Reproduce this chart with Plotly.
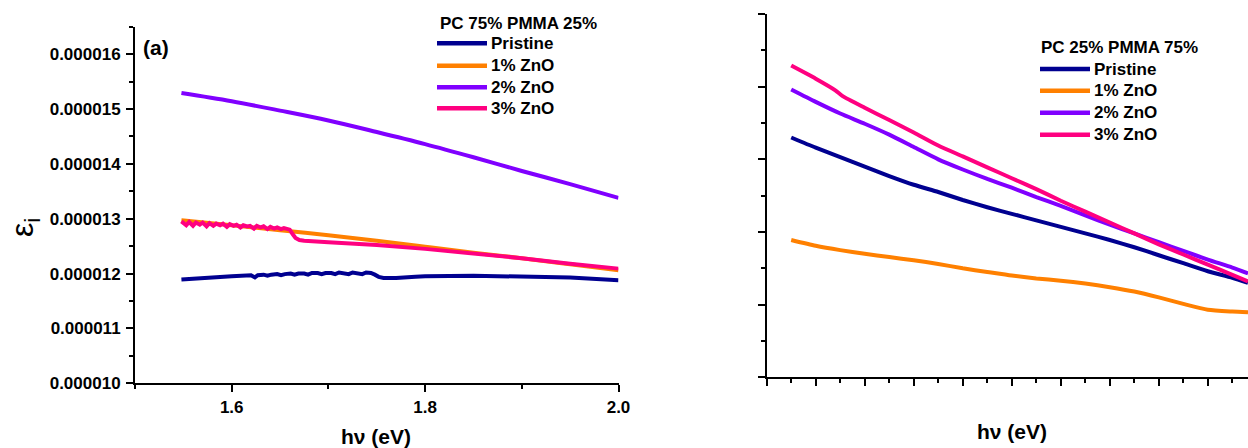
import plotly.graph_objects as go

W, H = 1248, 448

# ---------------- data: left panel (PC 75% PMMA 25%) ----------------
series_names = ["Pristine", "1% ZnO", "2% ZnO", "3% ZnO"]
series_colors = ["#000090", "#FF8000", "#8000FF", "#FF0080"]

left_x = [1.548, 1.6, 1.65, 1.7, 1.75, 1.8, 1.85, 1.9, 1.95, 2.0]
left_zno1 = [12.97, 12.88, 12.79, 12.70, 12.60, 12.49, 12.38, 12.28, 12.17, 12.06]
left_zno2 = [15.29, 15.14, 14.97, 14.79, 14.58, 14.36, 14.12, 13.87, 13.63, 13.38]

left_zno3_x = [1.548, 1.553, 1.556, 1.560, 1.563, 1.567, 1.570, 1.574, 1.577, 1.581,
               1.584, 1.588, 1.591, 1.595, 1.598, 1.602, 1.605, 1.609, 1.612, 1.616,
               1.619, 1.623, 1.626, 1.630, 1.633, 1.637, 1.640, 1.644, 1.647, 1.651,
               1.654, 1.657, 1.660, 1.663, 1.666, 1.670, 1.675, 1.70, 1.75, 1.80,
               1.85, 1.90, 1.95, 2.0]
left_zno3 = [12.95, 12.88, 12.94, 12.87, 12.93, 12.89, 12.93, 12.86, 12.92, 12.87,
             12.91, 12.88, 12.91, 12.85, 12.90, 12.87, 12.89, 12.84, 12.88, 12.86,
             12.87, 12.82, 12.87, 12.84, 12.86, 12.81, 12.85, 12.82, 12.84, 12.81,
             12.83, 12.82, 12.80, 12.72, 12.65, 12.61, 12.60, 12.57, 12.52, 12.45,
             12.37, 12.28, 12.18, 12.09]

left_pristine_x = [1.548, 1.575, 1.60, 1.620, 1.624, 1.627, 1.633, 1.637, 1.641, 1.647,
                   1.651, 1.655, 1.661, 1.665, 1.669, 1.675, 1.679, 1.683, 1.689, 1.693,
                   1.697, 1.703, 1.707, 1.711, 1.717, 1.721, 1.725, 1.731, 1.735, 1.739,
                   1.744, 1.748, 1.752, 1.757, 1.77, 1.79, 1.80, 1.85, 1.90, 1.95, 2.0]
left_pristine = [11.89, 11.93, 11.95, 11.97, 11.93, 11.97, 11.98, 11.96, 11.98, 11.99,
                 11.97, 11.99, 12.00, 11.98, 12.00, 12.00, 11.98, 12.01, 12.01, 11.99,
                 12.01, 12.01, 11.99, 12.02, 12.01, 11.99, 12.02, 12.01, 11.99, 12.02,
                 12.01, 11.98, 11.94, 11.92, 11.92, 11.94, 11.95, 11.96, 11.95, 11.93, 11.88]

left_y_scale = 1e-6  # values above are in units of 1e-6

# ---------------- data: right panel (PC 25% PMMA 75%), unlabeled axes ----------------
right_x = [1.55, 1.6, 1.65, 1.7, 1.75, 1.8, 1.85, 1.9, 1.95, 2.0,
           2.05, 2.1, 2.15, 2.2, 2.25, 2.3, 2.35, 2.4, 2.45, 2.482]
right_pristine = [3.30, 3.16, 3.03, 2.90, 2.77, 2.65, 2.55, 2.44, 2.34, 2.25,
                  2.16, 2.07, 1.98, 1.89, 1.79, 1.68, 1.57, 1.46, 1.37, 1.30]
right_zno1 = [1.89, 1.81, 1.75, 1.70, 1.655, 1.61, 1.56, 1.50, 1.45, 1.40,
              1.36, 1.33, 1.29, 1.24, 1.18, 1.10, 1.01, 0.93, 0.905, 0.895]
right_zno2 = [3.96, 3.79, 3.63, 3.49, 3.34, 3.17, 3.00, 2.86, 2.73, 2.61,
              2.48, 2.36, 2.23, 2.10, 1.98, 1.86, 1.74, 1.62, 1.51, 1.43]
right_zno3_x = [1.55, 1.6, 1.64, 1.655, 1.7, 1.75, 1.8, 1.85, 1.9, 1.95, 2.0,
                2.05, 2.1, 2.15, 2.2, 2.25, 2.3, 2.35, 2.4, 2.45, 2.482]
right_zno3 = [4.29, 4.11, 3.95, 3.87, 3.71, 3.54, 3.37, 3.19, 3.04, 2.89, 2.74,
              2.59, 2.43, 2.28, 2.13, 1.98, 1.83, 1.69, 1.55, 1.41, 1.32]

left_title = "PC 75% PMMA 25%"
right_title = "PC 25% PMMA 75%"

# ---------------- figure ----------------
FONT = "Liberation Sans, Arial, sans-serif"


def px(x):
    return x / W


def py(y):
    return 1 - y / H


fig = go.Figure()

left_sets = [
    (left_pristine_x, left_pristine, "linear"),
    (left_x, left_zno1, "spline"),
    (left_x, left_zno2, "spline"),
    (left_zno3_x, left_zno3, "linear"),
]
for (xs, ys, shp), name, col in zip(left_sets, series_names, series_colors):
    fig.add_trace(go.Scatter(x=xs, y=[v * left_y_scale for v in ys], mode="lines",
                             name=name, line=dict(color=col, width=4, shape=shp),
                             xaxis="x", yaxis="y", showlegend=False))

right_sets = [
    (right_x, right_pristine),
    (right_x, right_zno1),
    (right_x, right_zno2),
    (right_zno3_x, right_zno3),
]
for (xs, ys), name, col in zip(right_sets, series_names, series_colors):
    fig.add_trace(go.Scatter(x=xs, y=ys, mode="lines", name=name,
                             line=dict(color=col, width=4, shape="spline", smoothing=0.6),
                             xaxis="x2", yaxis="y2", showlegend=False))

tickfont = dict(family=FONT, size=17, color="black", weight="bold")
axis_common = dict(showgrid=False, zeroline=False, showline=True, linecolor="black",
                   linewidth=2, ticks="outside", tickcolor="black", tickwidth=2,
                   ticklen=7, automargin=False)

fig.update_layout(
    template="none",
    width=W, height=H, autosize=False,
    margin=dict(l=0, r=0, t=0, b=0, pad=0),
    paper_bgcolor="white", plot_bgcolor="white",
    xaxis=dict(axis_common, domain=[px(135), px(618.5)], range=[1.5, 2.0],
               tick0=0, dtick=0.2, tickformat=".1f", tickfont=tickfont,
               ticklabelstandoff=0,
               minor=dict(dtick=0.1, ticks="outside", ticklen=4, tickwidth=2,
                          tickcolor="black"),
               anchor="y"),
    yaxis=dict(axis_common, domain=[py(383.3), py(26.65)], range=[10e-6, 16.5e-6],
               tick0=0, dtick=1e-6, tickformat=".6f", tickfont=tickfont,
               ticklabelstandoff=2,
               minor=dict(dtick=0.5e-6, ticks="outside", ticklen=4, tickwidth=2,
                          tickcolor="black"),
               anchor="x"),
    xaxis2=dict(axis_common, domain=[px(766.7), 1.0], range=[1.5, 2.482],
                tick0=1.5, dtick=0.1, showticklabels=False,
                minor=dict(dtick=0.05, ticks="outside", ticklen=4, tickwidth=2,
                           tickcolor="black"),
                anchor="y2"),
    yaxis2=dict(axis_common, domain=[py(377.3), py(14)], range=[0, 5],
                tick0=0, dtick=1, showticklabels=False,
                minor=dict(dtick=0.5, ticks="outside", ticklen=4, tickwidth=2,
                           tickcolor="black"),
                anchor="x2"),
    showlegend=False,
)

annotations = []
shapes = []


def add_legend(title, title_x, title_y, line_x0, line_x1, row_ys):
    annotations.append(dict(text="<b>" + title + "</b>", x=px(title_x), y=py(title_y),
                            xref="paper", yref="paper", xanchor="left", yanchor="middle",
                            showarrow=False, font=dict(family=FONT, size=17, color="black")))
    for name, col, ry in zip(series_names, series_colors, row_ys):
        shapes.append(dict(type="line", xref="paper", yref="paper",
                           x0=px(line_x0), x1=px(line_x1), y0=py(ry), y1=py(ry),
                           line=dict(color=col, width=4.5)))
        annotations.append(dict(text="<b>" + name + "</b>", x=px(line_x1 + 2), y=py(ry),
                                xref="paper", yref="paper", xanchor="left",
                                yanchor="middle", showarrow=False,
                                font=dict(family=FONT, size=17, color="black")))


add_legend(left_title, 438, 23.3, 437, 487, [43.3, 65.7, 87.3, 108.3])
add_legend(right_title, 1039, 47, 1040, 1090, [69, 90.7, 112.7, 134.7])

annotations.append(dict(text="<b>(a)</b>", x=px(156), y=py(47), xref="paper", yref="paper",
                        xanchor="center", yanchor="middle", showarrow=False,
                        font=dict(family=FONT, size=21, color="black")))
annotations.append(dict(text="<b>hν (eV)</b>", x=px(376), y=py(436), xref="paper",
                        yref="paper", xanchor="center", yanchor="middle", showarrow=False,
                        font=dict(family=FONT, size=21, color="black")))
annotations.append(dict(text="<b>hν (eV)</b>", x=px(1012), y=py(431), xref="paper",
                        yref="paper", xanchor="center", yanchor="middle", showarrow=False,
                        font=dict(family=FONT, size=21, color="black")))
annotations.append(dict(text="ε<sub>i</sub>", x=px(24), y=py(228), xref="paper",
                        yref="paper", xanchor="center", yanchor="middle", showarrow=False,
                        textangle=-90, font=dict(family=FONT, size=32, color="black")))

fig.update_layout(annotations=annotations, shapes=shapes)

fig.write_html("out.html", config={"displayModeBar": False},
               post_script="document.body.style.margin='0px';")
